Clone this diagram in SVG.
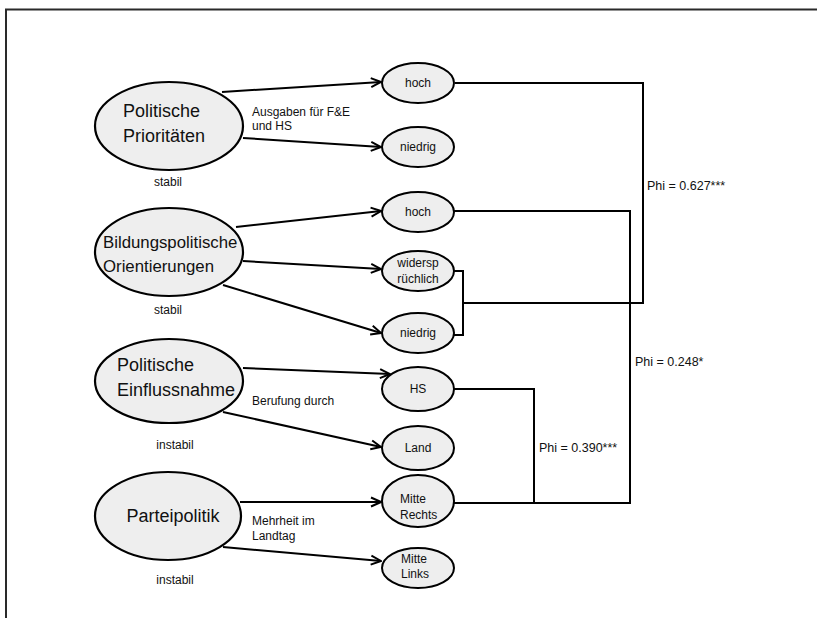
<svg xmlns="http://www.w3.org/2000/svg" width="817" height="618" viewBox="0 0 817 618">
  <style>
    .frame { fill: none; stroke: #2a2a2a; stroke-width: 2; }
    .big { fill: #eeeeee; stroke: #000; stroke-width: 2.2; }
    .small { fill: #eeeeee; stroke: #000; stroke-width: 2; }
    .arrow { fill: none; stroke: #000; stroke-width: 2; marker-end: url(#head); }
    .link { fill: none; stroke: #000; stroke-width: 2; }
    .title { font-family: "Liberation Sans", Arial, sans-serif; font-size: 18px; fill: #111; }
    .lbl { font-family: "Liberation Sans", Arial, sans-serif; font-size: 12px; fill: #111; }
    .phi { font-family: "Liberation Sans", Arial, sans-serif; font-size: 12.5px; fill: #111; }
  </style>
  <defs>
    <marker id="head" viewBox="0 0 12 12" refX="11" refY="6" markerWidth="12" markerHeight="12" markerUnits="userSpaceOnUse" orient="auto">
      <path d="M1,1.5 L11,6 L1,10.5" fill="none" stroke="#000" stroke-width="2"/>
    </marker>
  </defs>

  <rect width="817" height="618" fill="#fff"/>
  <!-- outer frame (top and left edges visible) -->
  <path class="frame" d="M6,618 V9.5 H817"/>

  <!-- connectors -->
  <g id="connectors">
    <!-- Politische Prioritäten -->
    <path class="arrow" d="M222,92 L381,82"/>
    <path class="arrow" d="M243,138 L381,147"/>
    <!-- Bildungspolitische Orientierungen -->
    <path class="arrow" d="M236,227 L381,211"/>
    <path class="arrow" d="M243,261 L381,269"/>
    <path class="arrow" d="M223,285 L381,333"/>
    <!-- Politische Einflussnahme -->
    <path class="arrow" d="M243,368 L390,374"/>
    <path class="arrow" d="M223,412 L381,447"/>
    <!-- Parteipolitik -->
    <path class="arrow" d="M240,502 L381,502"/>
    <path class="arrow" d="M223,547 L381,561"/>

    <!-- correlation brackets -->
    <path class="link" d="M454,271 H463 V335 H454"/>
    <path class="link" d="M455,83 H643 V303 H463"/>
    <path class="link" d="M454,211 H630 V503 H454"/>
    <path class="link" d="M454,389 H534 V503"/>
  </g>

  <!-- edge and correlation labels -->
  <g id="labels">
    <text class="lbl" x="252" y="116">Ausgaben für F&amp;E</text>
    <text class="lbl" x="252" y="130">und HS</text>
    <text class="lbl" x="252" y="405">Berufung durch</text>
    <text class="lbl" x="252" y="525">Mehrheit im</text>
    <text class="lbl" x="252" y="540">Landtag</text>
    <text class="phi" x="647" y="190">Phi = 0.627***</text>
    <text class="phi" x="635" y="366">Phi = 0.248*</text>
    <text class="phi" x="539" y="452">Phi = 0.390***</text>
  </g>

  <!-- factor nodes -->
  <g id="politische-prioritaeten">
    <ellipse class="big" cx="169" cy="126" rx="74" ry="44"/>
    <text class="title" x="123" y="117">Politische</text>
    <text class="title" x="123" y="142">Prioritäten</text>
    <text class="lbl" x="168" y="186" text-anchor="middle">stabil</text>
  </g>
  <g id="bildungspolitische-orientierungen">
    <ellipse class="big" cx="169" cy="252" rx="74" ry="44"/>
    <text class="title" x="103" y="248" style="font-size:16.8px">Bildungspolitische</text>
    <text class="title" x="103" y="272" style="font-size:16.8px">Orientierungen</text>
    <text class="lbl" x="168" y="314" text-anchor="middle">stabil</text>
  </g>
  <g id="politische-einflussnahme">
    <ellipse class="big" cx="169" cy="381" rx="74" ry="42"/>
    <text class="title" x="117" y="371">Politische</text>
    <text class="title" x="117" y="396">Einflussnahme</text>
    <text class="lbl" x="175" y="449" text-anchor="middle">instabil</text>
  </g>
  <g id="parteipolitik">
    <ellipse class="big" cx="168" cy="516" rx="73" ry="44"/>
    <text class="title" x="173" y="522" text-anchor="middle">Parteipolitik</text>
    <text class="lbl" x="175" y="584" text-anchor="middle">instabil</text>
  </g>

  <!-- outcome nodes -->
  <g id="pp-hoch">
    <ellipse class="small" cx="418" cy="83" rx="36" ry="20"/>
    <text class="lbl" x="418" y="87" text-anchor="middle">hoch</text>
  </g>
  <g id="pp-niedrig">
    <ellipse class="small" cx="418" cy="147" rx="36" ry="20"/>
    <text class="lbl" x="418" y="151" text-anchor="middle">niedrig</text>
  </g>
  <g id="bo-hoch">
    <ellipse class="small" cx="418" cy="212" rx="36" ry="20"/>
    <text class="lbl" x="418" y="216" text-anchor="middle">hoch</text>
  </g>
  <g id="bo-widerspruechlich">
    <ellipse class="small" cx="418" cy="271" rx="36" ry="20"/>
    <text class="lbl" x="418" y="267" text-anchor="middle">widersp</text>
    <text class="lbl" x="418" y="283" text-anchor="middle">rüchlich</text>
  </g>
  <g id="bo-niedrig">
    <ellipse class="small" cx="418" cy="333" rx="36" ry="20"/>
    <text class="lbl" x="418" y="337" text-anchor="middle">niedrig</text>
  </g>
  <g id="pe-hs">
    <ellipse class="small" cx="418" cy="389" rx="36" ry="22"/>
    <text class="lbl" x="418" y="393" text-anchor="middle">HS</text>
  </g>
  <g id="pe-land">
    <ellipse class="small" cx="418" cy="448" rx="36" ry="22"/>
    <text class="lbl" x="418" y="452" text-anchor="middle">Land</text>
  </g>
  <g id="pa-mitte-rechts">
    <ellipse class="small" cx="418" cy="501" rx="36" ry="26"/>
    <text class="lbl" x="400" y="503">Mitte</text>
    <text class="lbl" x="400" y="519">Rechts</text>
  </g>
  <g id="pa-mitte-links">
    <ellipse class="small" cx="418" cy="568" rx="36" ry="20"/>
    <text class="lbl" x="401" y="563">Mitte</text>
    <text class="lbl" x="401" y="578">Links</text>
  </g>
</svg>
